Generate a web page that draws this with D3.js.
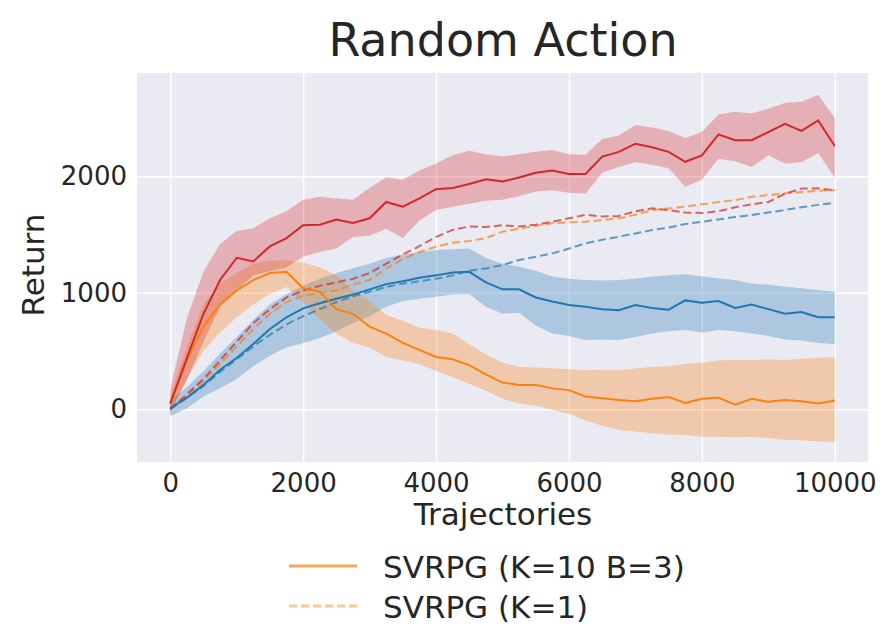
<!DOCTYPE html>
<html>
    <body style="margin:0;background:#fff">
        <script src="https://d3js.org/d3.v7.min.js"></script>
        <svg id="mgSvg" width="884" height="627"></svg>

        <script>
            // trajectories, one sample every 250
            const steps = d3.range(0, 10001, 250);

            // solid runs (mean and shaded band)
            const redMean = [50, 440, 820, 1110, 1300, 1270, 1400, 1470, 1580, 1585, 1630, 1600, 1640, 1780, 1740, 1810, 1890, 1900, 1935, 1975, 1955, 1990, 2030, 2050, 2020, 2020, 2170, 2210, 2280, 2250, 2210, 2125, 2180, 2360, 2310, 2310, 2380, 2450, 2390, 2480, 2260];
            const redHi = [170, 780, 1180, 1420, 1530, 1555, 1640, 1700, 1800, 1825, 1810, 1800, 1900, 1990, 1970, 2050, 2110, 2180, 2220, 2190, 2170, 2190, 2210, 2225, 2190, 2185, 2320, 2350, 2440, 2420, 2390, 2330, 2380, 2530, 2555, 2540, 2580, 2630, 2640, 2700, 2500];
            const redLo = [-30, 250, 580, 880, 1020, 1150, 1185, 1220, 1310, 1350, 1380, 1480, 1490, 1550, 1470, 1620, 1710, 1740, 1765, 1790, 1800, 1830, 1870, 1880, 1860, 1850, 2030, 2080, 2120, 2100, 2070, 1910, 1970, 2150, 2130, 2080, 2180, 2110, 2120, 2200, 1990];

            const orangeMean = [50, 420, 710, 900, 1020, 1110, 1170, 1180, 1040, 1010, 860, 820, 710, 650, 570, 510, 450, 430, 380, 300, 230, 210, 210, 180, 165, 110, 95, 80, 70, 90, 105, 55, 90, 100, 40, 90, 65, 80, 70, 50, 75];
            const orangeHi = [120, 540, 900, 1080, 1170, 1250, 1275, 1280, 1260, 1220, 1150, 1020, 930, 810, 760, 700, 680, 650, 560, 470, 400, 366, 360, 352, 345, 338, 340, 338, 350, 366, 370, 390, 400, 420, 425, 424, 430, 424, 435, 440, 450];
            const orangeLo = [-20, 260, 500, 660, 790, 900, 990, 1050, 920, 770, 650, 570, 530, 450, 420, 390, 330, 275, 220, 160, 90, 50, 30, -6, -40, -95, -140, -178, -190, -205, -215, -220, -235, -235, -240, -238, -245, -260, -265, -275, -280];

            const blueMean = [10, 100, 210, 340, 440, 560, 690, 790, 867, 910, 950, 985, 1030, 1075, 1100, 1130, 1150, 1175, 1180, 1090, 1030, 1030, 960, 925, 895, 880, 860, 850, 895, 870, 855, 935, 915, 930, 870, 900, 860, 820, 835, 790, 790];
            const blueHi = [75, 190, 330, 480, 620, 770, 900, 990, 1060, 1120, 1170, 1210, 1250, 1300, 1330, 1350, 1367, 1375, 1380, 1300, 1250, 1224, 1190, 1140, 1120, 1110, 1105, 1110, 1120, 1140, 1150, 1160, 1140, 1125, 1110, 1080, 1070, 1055, 1040, 1025, 1010];
            const blueLo = [-60, 10, 110, 180, 260, 370, 460, 530, 570, 610, 670, 740, 800, 880, 930, 950, 967, 985, 990, 880, 820, 830, 720, 650, 630, 595, 600, 595, 620, 650, 670, 680, 660, 680, 670, 650, 630, 600, 590, 570, 560];

            // dashed runs
            const redDash = [0, 130, 260, 420, 580, 740, 860, 960, 1020, 1060, 1090, 1120, 1170, 1250, 1330, 1400, 1480, 1540, 1570, 1565, 1580, 1570, 1585, 1610, 1640, 1670, 1655, 1660, 1700, 1725, 1710, 1690, 1685, 1700, 1735, 1760, 1780, 1850, 1895, 1897, 1880];
            const orangeDash = [0, 120, 240, 390, 540, 690, 820, 920, 975, 1000, 1020, 1070, 1110, 1210, 1290, 1350, 1396, 1430, 1445, 1470, 1525, 1550, 1575, 1597, 1605, 1610, 1625, 1640, 1670, 1711, 1725, 1740, 1760, 1780, 1795, 1825, 1840, 1854, 1865, 1875, 1882];
            const blueDash = [0, 100, 200, 320, 430, 540, 640, 730, 800, 860, 920, 970, 1010, 1050, 1080, 1100, 1120, 1150, 1190, 1210, 1239, 1282, 1310, 1339, 1380, 1425, 1455, 1482, 1510, 1539, 1560, 1590, 1610, 1630, 1650, 1668, 1690, 1711, 1735, 1755, 1774];

            const xTicks = [0, 2000, 4000, 6000, 8000, 10000];
            const yTicks = [0, 1000, 2000];
            const legendNames = ['SVRPG (K=10 B=3)', 'SVRPG (K=1)'];

            const svg = d3.select('#mgSvg');
            const plot = {left: 137, right: 868, top: 73, bottom: 462};
            const font = 'DejaVu Sans';
            const ink = '#262626';

            const xScale = d3.scaleLinear().domain([-500, 10500]).range([plot.left, plot.right]);
            const yScale = d3.scaleLinear().domain([-452, 2887]).range([plot.bottom, plot.top]);

            svg.append('rect')
               .attr('x', plot.left).attr('y', plot.top)
               .attr('width', plot.right - plot.left).attr('height', plot.bottom - plot.top)
               .attr('fill', '#eaeaf2');

            // axes with white grid
            const xAxis = d3.axisBottom(xScale).tickValues(xTicks).tickFormat(d3.format('d'))
                            .tickSize(-(plot.bottom - plot.top)).tickPadding(12);
            const yAxis = d3.axisLeft(yScale).tickValues(yTicks).tickFormat(d3.format('d'))
                            .tickSize(-(plot.right - plot.left)).tickPadding(10);

            const gx = svg.append('g').attr('transform', `translate(0, ${plot.bottom})`).call(xAxis);
            const gy = svg.append('g').attr('transform', `translate(${plot.left}, 0)`).call(yAxis);
            [gx, gy].forEach(g => {
                g.select('.domain').remove();
                g.selectAll('.tick line').attr('stroke', '#fff').attr('stroke-width', 1.5);
                g.selectAll('.tick text').attr('fill', ink).attr('font-family', font).attr('font-size', 26);
            });
            gx.selectAll('.tick text').attr('dy', '0.71em');

            const pts = (arr) => arr.map((v, i) => [steps[i], v]);
            const area = d3.area()
                           .x(d => xScale(d[0]))
                           .y0(d => yScale(d[1]))
                           .y1(d => yScale(d[2]));
            const line = d3.line().x(d => xScale(d[0])).y(d => yScale(d[1]));

            const bands = [
                {lo: blueLo, hi: blueHi, color: '#1f77b4'},
                {lo: orangeLo, hi: orangeHi, color: '#ff7f0e'},
                {lo: redLo, hi: redHi, color: '#d62728'}
            ];
            bands.forEach(b => {
                svg.append('path')
                   .datum(steps.map((s, i) => [s, b.lo[i], b.hi[i]]))
                   .attr('d', area)
                   .attr('fill', b.color)
                   .attr('fill-opacity', 0.3);
            });

            const dashed = [
                {vals: blueDash, color: '#1f77b4'},
                {vals: orangeDash, color: '#ff7f0e'},
                {vals: redDash, color: '#d62728'}
            ];
            dashed.forEach(d => {
                svg.append('path')
                   .datum(pts(d.vals))
                   .attr('d', line)
                   .attr('fill', 'none')
                   .attr('stroke', d.color)
                   .attr('stroke-opacity', 0.7)
                   .attr('stroke-width', 2)
                   .attr('stroke-dasharray', '8,4');
            });

            const solid = [
                {vals: blueMean, color: '#1f77b4'},
                {vals: orangeMean, color: '#ff7f0e'},
                {vals: redMean, color: '#d62728'}
            ];
            solid.forEach(d => {
                svg.append('path')
                   .datum(pts(d.vals))
                   .attr('d', line)
                   .attr('fill', 'none')
                   .attr('stroke', d.color)
                   .attr('stroke-width', 2);
            });

            // title and labels
            svg.append('text')
               .text('Random Action')
               .attr('x', 503).attr('y', 56)
               .attr('text-anchor', 'middle')
               .attr('font-family', font).attr('font-size', 46).attr('fill', ink);

            svg.append('text')
               .text('Trajectories')
               .attr('x', 503).attr('y', 525)
               .attr('text-anchor', 'middle')
               .attr('font-family', font).attr('font-size', 31).attr('fill', ink);

            svg.append('text')
               .text('Return')
               .attr('transform', 'translate(44, 265) rotate(-90)')
               .attr('text-anchor', 'middle')
               .attr('font-family', font).attr('font-size', 31).attr('fill', ink);

            // legend, second row sits at the page bottom
            const legend = svg.append('g');
            legendNames.forEach((name, i) => {
                const y = 566 + i * 40;
                legend.append('line')
                      .attr('x1', 289).attr('x2', 357).attr('y1', y).attr('y2', y)
                      .attr('stroke', '#ff7f0e')
                      .attr('stroke-opacity', i === 0 ? 0.7 : 0.45)
                      .attr('stroke-width', 3)
                      .attr('stroke-dasharray', i === 0 ? null : '8,4');
                legend.append('text')
                      .text(name)
                      .attr('x', 383).attr('y', y + 12)
                      .attr('font-family', font).attr('font-size', 31).attr('fill', ink);
            });
        </script>
    </body>
</html>
